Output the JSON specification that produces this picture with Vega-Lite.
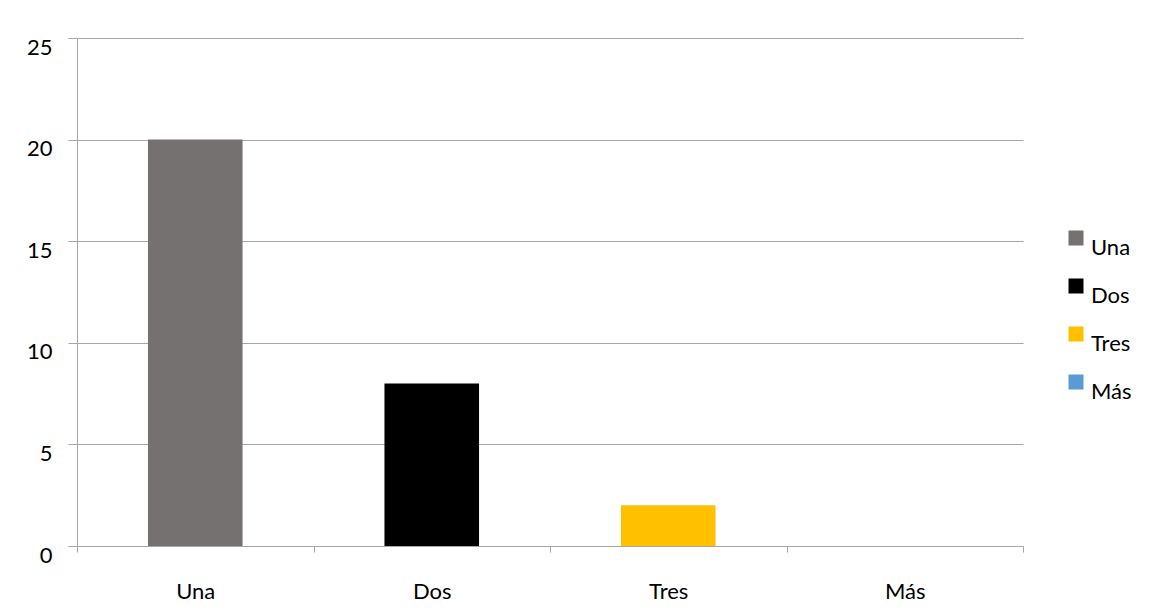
{
  "$schema": "https://vega.github.io/schema/vega-lite/v6.json",
  "width": 946,
  "height": 508,
  "autosize": {"type": "none"},
  "padding": {"left": 77, "top": 38, "right": 138, "bottom": 67},
  "background": "white",
  "config": {
    "view": {"stroke": null},
    "font": "Lato"
  },
  "data": {
    "values": [
      {"categoria": "Una", "valor": 20},
      {"categoria": "Dos", "valor": 8},
      {"categoria": "Tres", "valor": 2},
      {"categoria": "Más", "valor": 0}
    ]
  },
  "mark": {"type": "bar", "width": {"band": 0.4}},
  "encoding": {
    "x": {
      "field": "categoria",
      "type": "nominal",
      "sort": ["Una", "Dos", "Tres", "Más"],
      "scale": {"paddingInner": 0, "paddingOuter": 0},
      "axis": {
        "title": null,
        "labelAngle": 0,
        "labelFont": "Lato",
        "labelFontSize": 22,
        "labelColor": "#000000",
        "labelPadding": 29,
        "tickBand": "extent",
        "tickSize": 6,
        "tickColor": "#A6A6A6",
        "domainColor": "#A6A6A6",
        "domain": true
      }
    },
    "y": {
      "field": "valor",
      "type": "quantitative",
      "scale": {"domain": [0, 25]},
      "axis": {
        "title": null,
        "values": [0, 5, 10, 15, 20, 25],
        "labelFont": "Lato",
        "labelFontSize": 22,
        "labelColor": "#000000",
        "labelOffset": 9,
        "labelPadding": 16,
        "tickSize": 9,
        "tickColor": "#A6A6A6",
        "domainColor": "#A6A6A6",
        "grid": true,
        "gridColor": "#A6A6A6",
        "gridWidth": 1
      }
    },
    "color": {
      "field": "categoria",
      "type": "nominal",
      "sort": ["Una", "Dos", "Tres", "Más"],
      "scale": {
        "domain": ["Una", "Dos", "Tres", "Más"],
        "range": ["#767171", "#000000", "#FFC000", "#5B9BD5"]
      },
      "legend": {
        "title": null,
        "orient": "none",
        "legendX": 988,
        "legendY": 189,
        "symbolType": "square",
        "symbolSize": 225,
        "symbolStrokeWidth": 0,
        "symbolOpacity": 1,
        "labelFont": "Lato",
        "labelFontSize": 22,
        "labelColor": "#000000",
        "labelBaseline": "top",
        "labelOffset": 4,
        "rowPadding": 16
      }
    }
  }
}
